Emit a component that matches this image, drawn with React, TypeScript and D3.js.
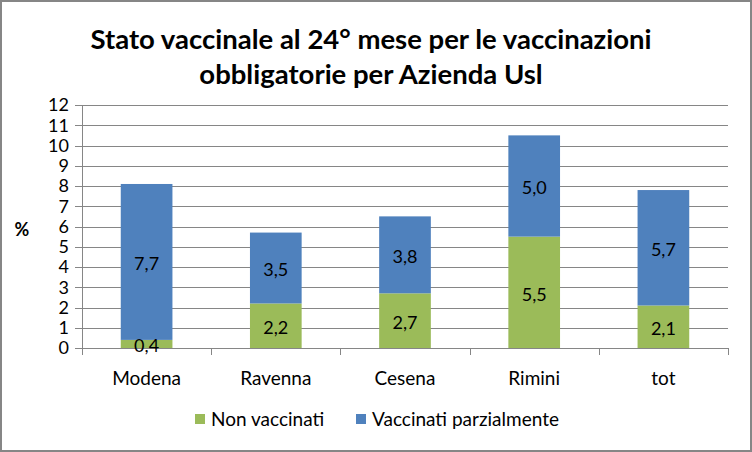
import React from 'react';
import { scaleBand, scaleLinear, stack, format } from 'd3';

const categories = ['Modena', 'Ravenna', 'Cesena', 'Rimini', 'tot'];
const nonVaccinati = [0.4, 2.2, 2.7, 5.5, 2.1];
const parzialmente = [7.7, 3.5, 3.8, 5.0, 5.7];
const seriesNames = ['Non vaccinati', 'Vaccinati parzialmente'];
const seriesColors = ['#9BBB59', '#4F81BD'];
const yTicks = [0, 1, 2, 3, 4, 5, 6, 7, 8, 9, 10, 11, 12];

const W = 752;
const H = 452;
const plot = { left: 82, right: 728, top: 105, bottom: 348 };
const font = 'Lato, "Open Sans", sans-serif';

if (typeof document !== 'undefined') document.body.style.margin = '0';

export default function App() {
  const rows = categories.map((c, i) => ({ cat: c, non: nonVaccinati[i], parz: parzialmente[i] }));
  const stacked = stack<any>().keys(['non', 'parz'])(rows);

  const x = scaleBand().domain(categories).range([plot.left, plot.right]).paddingInner(0.6).paddingOuter(0.3);
  const xOuter = scaleBand().domain(categories).range([plot.left, plot.right]);
  const y = scaleLinear().domain([0, 12]).range([plot.bottom, plot.top]);
  const fmt = (v: number) => format('.1f')(v).replace('.', ',');

  return (
    <svg width={W} height={H} style={{ display: 'block', fontFamily: font }}>
      <rect x={0} y={0} width={W} height={H} fill="#868686" />
      <rect x={2} y={2} width={W - 4} height={H - 4} fill="#fff" />
      <text x={371} y={49} textAnchor="middle" fontSize={27.5} fontWeight="bold" fill="#000">
        Stato vaccinale al 24° mese per le vaccinazioni
      </text>
      <text x={371} y={84} textAnchor="middle" fontSize={27.5} fontWeight="bold" fill="#000">
        obbligatorie per Azienda Usl
      </text>

      {/* grid + y axis */}
      {yTicks.map(t => (
        <g key={t}>
          <line x1={plot.left - 7} x2={plot.right} y1={Math.round(y(t)) + 0.5} y2={Math.round(y(t)) + 0.5} stroke="#868686" strokeWidth={1} />
          <text x={69} y={y(t)} dy="0.35em" textAnchor="end" fontSize={18} fill="#000">{t}</text>
        </g>
      ))}
      <line x1={plot.left + 0.5} x2={plot.left + 0.5} y1={plot.top} y2={plot.bottom} stroke="#868686" />
      {categories.map(c => (
        <line key={c} x1={Math.round(xOuter(c)! + xOuter.bandwidth()) + 0.5} x2={Math.round(xOuter(c)! + xOuter.bandwidth()) + 0.5} y1={plot.bottom} y2={plot.bottom + 7} stroke="#868686" />
      ))}
      <line x1={plot.left + 0.5} x2={plot.left + 0.5} y1={plot.bottom} y2={plot.bottom + 7} stroke="#868686" />
      <text x={22} y={230} dy="0.35em" textAnchor="middle" fontSize={18} fontWeight="bold">%</text>

      {/* bars */}
      {stacked.map((s, si) => (
        <g key={s.key} fill={seriesColors[si]}>
          {s.map((d, i) => (
            <rect key={i} x={x(categories[i])} width={x.bandwidth()} y={y(d[1])} height={y(d[0]) - y(d[1])} />
          ))}
        </g>
      ))}
      {stacked.map((s, si) => (
        <g key={s.key + 'l'}>
          {s.map((d, i) => (
            <text key={i} x={x(categories[i])! + x.bandwidth() / 2} y={y((d[0] + d[1]) / 2) + 2} dy="0.35em" textAnchor="middle" fontSize={18} fill="#000">
              {fmt(d[1] - d[0])}
            </text>
          ))}
        </g>
      ))}

      {categories.map(c => (
        <text key={c} x={xOuter(c)! + xOuter.bandwidth() / 2} y={385} textAnchor="middle" fontSize={19}>{c}</text>
      ))}

      {/* legend */}
      {seriesNames.map((n, i) => {
        const lx = i === 0 ? 195 : 356;
        return (
          <g key={n}>
            <rect x={lx} y={414} width={10} height={10} fill={seriesColors[i]} />
            <text x={lx + 16} y={419} dy="0.35em" fontSize={19}>{n}</text>
          </g>
        );
      })}
    </svg>
  );
}
